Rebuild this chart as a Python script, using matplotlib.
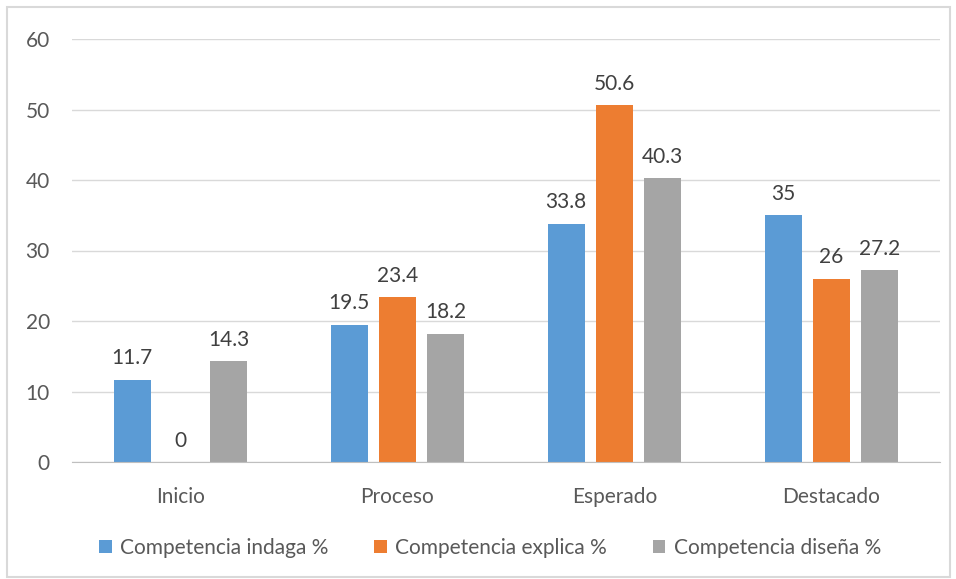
import matplotlib
matplotlib.use("Agg")
import matplotlib.pyplot as plt
import numpy as np
from matplotlib.patches import Rectangle

categories = ["Inicio", "Proceso", "Esperado", "Destacado"]
series_names = ["Competencia indaga %", "Competencia explica %", "Competencia diseña %"]
indaga = [11.7, 19.5, 33.8, 35]
explica = [0, 23.4, 50.6, 26]
disena = [14.3, 18.2, 40.3, 27.2]
value_labels = [["11.7", "19.5", "33.8", "35"],
                ["0", "23.4", "50.6", "26"],
                ["14.3", "18.2", "40.3", "27.2"]]
yticks = [0, 10, 20, 30, 40, 50, 60]
colors = ["#5B9BD5", "#ED7D31", "#A5A5A5"]

plt.rcParams['font.family'] = ['Lato', 'DejaVu Sans']
txt = "#595959"
fs = 15

fig = plt.figure(figsize=(9.56, 5.79), dpi=100)
fig.patches.append(Rectangle((7/956, 2/579), 943/956, 570/579, transform=fig.transFigure,
                             fill=False, edgecolor="#D9D9D9", linewidth=1.5))
ax = fig.add_axes([72/956, 1-462/579, (940-72)/956, (462-39)/579])

x = np.arange(len(categories))
w = 0.17
off = 0.223
for i, (vals, c) in enumerate(zip([indaga, explica, disena], colors)):
    pos = x + (i-1)*off
    ax.bar(pos, vals, width=w, color=c, label=series_names[i], zorder=3)
    for p, v, lab in zip(pos, vals, value_labels[i]):
        ax.text(p, v + 1.6, lab, ha="center", va="bottom", fontsize=fs, color="#404040")

ax.set_xlim(-0.5, 3.5)
ax.set_ylim(0, 60)
ax.set_yticks(yticks)
ax.set_yticklabels([str(t) for t in yticks], fontsize=fs, color=txt)
ax.set_xticks(x)
ax.set_xticklabels(categories, fontsize=fs, color=txt)
ax.grid(axis="y", color="#D9D9D9", linewidth=1, zorder=0)
for s in ["top", "right", "left"]:
    ax.spines[s].set_visible(False)
ax.spines["bottom"].set_color("#BFBFBF")
ax.spines["bottom"].set_zorder(4)
ax.tick_params(axis="both", length=0)
ax.tick_params(axis="y", pad=16)
ax.tick_params(axis="x", pad=18)

leg = fig.legend(loc="center", bbox_to_anchor=(0.5 + 12/956, 1-548/579), ncol=3, frameon=False,
                 fontsize=fs, handlelength=0.6, handleheight=0.6, handletextpad=0.4,
                 columnspacing=2.2)
for t in leg.get_texts():
    t.set_color(txt)

fig.savefig("out.png", dpi=100)
